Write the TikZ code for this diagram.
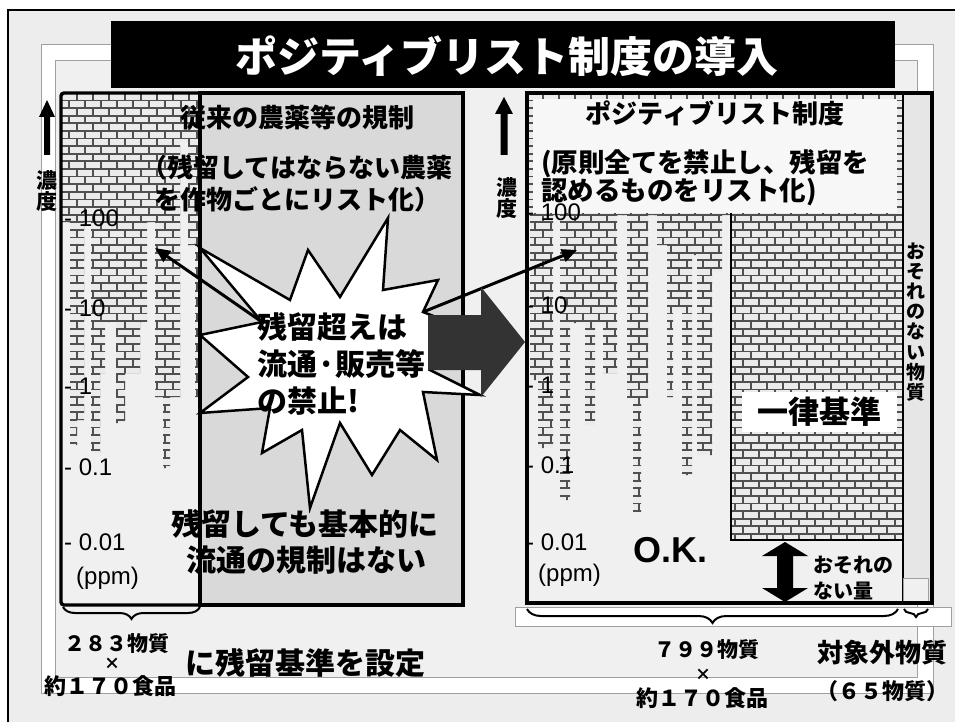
\documentclass[tikz,border=0pt]{standalone}
\usepackage{fontspec}
\newfontfamily\jp{Noto Sans CJK JP}
\newfontfamily\lat{Liberation Sans}
\usetikzlibrary{arrows.meta,decorations.pathreplacing}
\definecolor{pagebg}{HTML}{EDEDED}
\definecolor{innerbg}{HTML}{F0F0F0}
\definecolor{boxgrey}{HTML}{D9D9D9}
\definecolor{brickln}{HTML}{505050}
\definecolor{brickfc}{HTML}{EBEBEB}
\definecolor{bandln}{HTML}{A0A0A0}
\definecolor{blockarr}{HTML}{333333}
\definecolor{colgrey}{HTML}{E6E6E6}
\newcommand\brickfield[4]{%
  \fill[brickfc] (#1,#2) rectangle (#3,#4);
  \pgfmathtruncatemacro\nrows{((#4)-(#2))/7.6}
  \pgfmathtruncatemacro\ncols{((#3)-(#1))/16+1}
  \draw[brickline] \foreach \i in {0,...,\nrows} { ({#1},{#2+\i*7.6}) -- ({#3},{#2+\i*7.6}) };
  \draw[brickline] \foreach \i in {0,...,\nrows} { \foreach \j in {0,...,\ncols} { ({#1+mod(\i,2)*8+\j*16},{#2+\i*7.6}) -- ++(0,7.6) } };
}
\begin{document}
\begin{tikzpicture}[x=1pt,y=-1pt,
  jb/.style={font=\jp\bfseries\fontsize{#1}{#1}\selectfont, inner sep=0pt},
  jb/.default=26,
  lt/.style={font=\lat\fontsize{#1}{#1}\selectfont, inner sep=0pt, anchor=west},
  lt/.default=24,
  thickbox/.style={draw=black, line width=3.4pt},
  brickline/.style={draw=brickln, line width=1.8pt},
  bandline/.style={draw=bandln, line width=0.8pt},
  ptr/.style={line width=3pt, -{Triangle[length=15pt,width=13pt]}},
  bracestyle/.style={decorate, decoration={brace,mirror,amplitude=#1}, line width=2pt},
  upblk/.style={fill=black},
]
\useasboundingbox (0,0) rectangle (955,722);
\fill[white] (0,0) rectangle (955,722);
\fill[pagebg] (8,10) rectangle (955,722);
\draw[line width=2pt] (8,722) -- (8,10) -- (955,10);
% decorative band
\draw[bandline, fill=white] (41,44) rectangle (933,693);
\draw[bandline, fill=innerbg] (55,60) rectangle (917,677);
% title
\fill[black] (111,21) rectangle (895,88);
\node[jb=42, text=white] (title) at (507,56) {ポジティブリスト制度の導入};

% ---------- left box ----------
\fill[innerbg] (61,93) rectangle (200,605);
\begin{scope}
  \clip (61,93) rectangle (180,222) (180,93) rectangle (188,142) (188,93) rectangle (200,245)
        (70,222) rectangle (84,420) (70,420) rectangle (77,445)
        (91,222) rectangle (147,322) (91,322) rectangle (105,373) (91,373) rectangle (100,453)
        (116,322) rectangle (140,373) (116,373) rectangle (125,423)
        (155,222) rectangle (180,397) (163,397) rectangle (170,468)
        (195,245) rectangle (200,397);
  \brickfield{61}{93}{200}{470}
\end{scope}
\fill[boxgrey] (200,93) rectangle (463,605);
\draw[thickbox, rounded corners=3pt] (200,93) -- (61,93) -- (61,605) -- (200,605);
\draw[thickbox] (200,93) rectangle (463,605);

% ---------- right box ----------
\fill[innerbg] (527,93) rectangle (932,603);
\begin{scope}
  \clip (527,93) rectangle (903,215)
        (530,215) rectangle (553,380) (538,380) rectangle (553,448)
        (560,215) rectangle (617,323) (560,323) rectangle (570,500) (585,323) rectangle (595,425) (603,323) rectangle (617,373)
        (627,215) rectangle (648,398) (633,398) rectangle (641,512)
        (657,215) rectangle (667,245)
        (667,215) rectangle (722,255) (667,255) rectangle (692,310) (697,255) rectangle (722,272)
        (667,310) rectangle (673,397) (682,310) rectangle (692,475) (697,255) rectangle (712,455)
        (731,93) rectangle (903,540);
  \brickfield{527}{93}{903}{560}
\end{scope}
\fill[white!97!black] (533,99) rectangle (897,213);
\draw[line width=2.4pt] (731,213) -- (731,540) -- (903,540);
\fill[colgrey] (903,93) rectangle (932,603);
\draw[line width=2pt] (903,93) -- (903,603);
\draw[bandline, fill=innerbg] (903,578) rectangle (928,603);
\draw[thickbox] (527,93) rectangle (932,603);
\node[jb=31, fill=white, minimum width=155pt, minimum height=40pt] (uni) at (819.5,412) {一律基準};
\node[font=\jp\bfseries\fontsize{19}{20.2}\selectfont, inner sep=0pt, align=center] (osore) at (916,322) {お\\そ\\れ\\の\\な\\い\\物\\質};

% right box texts
\node[jb=26] (pltitle) at (715,113) {ポジティブリスト制度};
\node[jb=26.5, anchor=west] (pl1) at (541,164) {(原則全てを禁止し、残留を};
\node[jb=26.5, anchor=west] (pl2) at (541,192) {認めるものをリスト化)};
\node[font=\lat\bfseries\fontsize{36}{36}\selectfont, inner sep=0pt] (ok) at (670,550) {O.K.};
\fill[black] (785,542) -- (808,556) -- (793,556) -- (793,588) -- (808,588) -- (785,602) -- (762,588) -- (777,588) -- (777,556) -- (762,556) -- cycle;
\node[jb=20, anchor=west] (nq1) at (813,565) {おそれの};
\node[jb=20, anchor=west] (nq2) at (813,591) {ない量};

% left box texts
\node[jb=26] (lt1) at (297,118) {従来の農薬等の規制};
\node[jb=26] (lt2) at (297,168) {（残留してはならない農薬};
\node[jb=26] (lt3) at (297,199) {を作物ごとにリスト化）};
\node[jb=30] (lt4) at (305,524) {残留しても基本的に};
\node[jb=30] (lt5) at (306,560) {流通の規制はない};

% concentration arrows
\fill[upblk] (47,100) -- (55,117) -- (50,117) -- (50,155) -- (44,155) -- (44,117) -- (39,117) -- cycle;
\node[font=\jp\bfseries\fontsize{21}{21}\selectfont, inner sep=0pt, align=center] (conc1) at (47,191) {濃\\度};
\fill[upblk] (504,97) -- (513,114) -- (507.5,114) -- (507.5,155) -- (500.5,155) -- (500.5,114) -- (495,114) -- cycle;
\node[font=\jp\bfseries\fontsize{21}{21}\selectfont, inner sep=0pt, align=center] (conc2) at (507,198) {濃\\度};

% axis labels left
\node[lt] (a1) at (64,218) {- 100};
\node[lt] (a2) at (64,308) {- 10};
\node[lt] (a3) at (64,386) {- 1};
\node[lt] (a4) at (64,467) {- 0.1};
\node[lt] (a5) at (64,542) {- 0.01};
\node[lt] (a6) at (76,578) {(ppm)};
% axis labels right
\node[lt] (b1) at (526,212) {- 100};
\node[lt] (b2) at (526,305) {- 10};
\node[lt] (b3) at (526,385) {- 1};
\node[lt] (b4) at (526,465) {- 0.1};
\node[lt] (b5) at (526,542) {- 0.01};
\node[lt] (b6) at (538,575) {(ppm)};

% starburst
\draw[fill=white, line width=2.5pt, line join=miter] (308,250) -- (340,297) -- (388,218) -- (383,290) -- (438,280) -- (423,312)
  -- (470,330) -- (430,370) -- (480,395) -- (423,392) -- (437,460) -- (400,430) -- (372,475) -- (340,423)
  -- (310,508) -- (302,430) -- (262,453) -- (270,408) -- (200,413) -- (248,377) -- (200,335) -- (262,322)
  -- (200,248) -- (290,300) -- cycle;
\node[jb=30, anchor=west] (s1) at (257,327) {残留超えは};
\node[jb=30, anchor=west] (s2) at (257,364) {流通·販売等};
\node[jb=30, anchor=west] (s3) at (257,401) {の禁止!};
\coordinate (sa1) at (262,322);
\coordinate (sa1e) at (155,248);
\coordinate (sa2) at (423,312);
\coordinate (sa2e) at (577,250);
\draw[ptr] (sa1) -- (sa1e);
\draw[ptr] (sa2) -- (sa2e);
% block arrow
\fill[blockarr] (428,315) -- (481,315) -- (481,287) -- (525,342) -- (481,397) -- (481,370) -- (428,370) -- cycle;

% bottom left
\coordinate (bl1) at (63,607);
\coordinate (bl2) at (200,607);
\draw[bracestyle=12pt] (bl1) -- (bl2);
\node[jb=21] (n283) at (117,644) {２８３物質};
\node[jb=16] (x1) at (112,664) {×};
\node[jb=22] (f170a) at (110,686) {約１７０食品};
\node[jb=30] (setq) at (305,663) {に残留基準を設定};

% bottom right
\draw[bandline, fill=white] (515,607) rectangle (951,626);
\coordinate (br1) at (527,609);
\coordinate (br2) at (898,609);
\draw[bracestyle=14pt] (br1) -- (br2);
\coordinate (bs1) at (904,609);
\coordinate (bs2) at (928,609);
\draw[bracestyle=8pt] (bs1) -- (bs2);
\node[jb=21] (n799) at (707,650) {７９９物質};
\node[jb=16] (x2) at (703,675) {×};
\node[jb=22] (f170b) at (702,698) {約１７０食品};
\node[jb=26] (excl) at (882,653) {対象外物質};
\node[jb=22] (n65) at (882,691) {（６５物質）};
\end{tikzpicture}
\end{document}
